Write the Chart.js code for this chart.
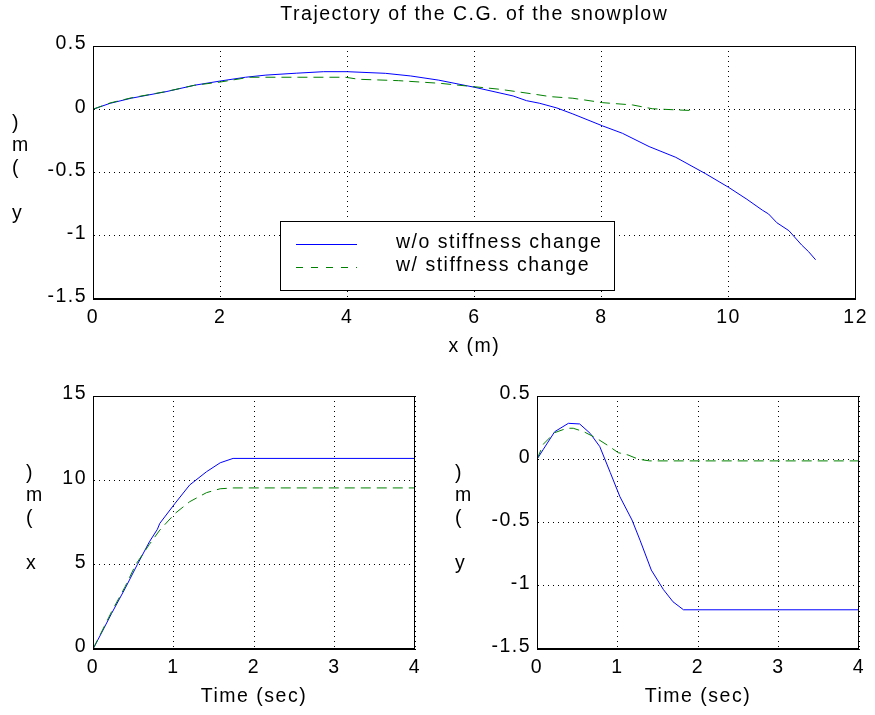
<!DOCTYPE html>
<html>
<head>
<meta charset="utf-8">
<script src="https://cdn.jsdelivr.net/npm/chart.js@4/dist/chart.umd.min.js"></script>
<style>
html,body{margin:0;padding:0;background:#fff;}
#wrap{position:relative;width:875px;height:715px;overflow:hidden;background:#fff;}
canvas{position:absolute;}
</style>
</head>
<body>
<div id="wrap">
<canvas id="c1" width="875" height="360" style="left:0;top:0;width:875px;height:360px"></canvas>
<canvas id="c2" width="440" height="355" style="left:0;top:360px;width:440px;height:355px"></canvas>
<canvas id="c3" width="435" height="355" style="left:440px;top:360px;width:435px;height:355px"></canvas>
</div>
<script>
// ---------- text ----------
const mainTitle = 'Trajectory of the C.G. of the snowplow';
const seriesNames = ['w/o stiffness change', 'w/ stiffness change'];
const trajXLabel = 'x (m)';
const trajYLabel = 'y (m)';
const timeLabel = 'Time (sec)';
const xtLabel = 'x (m)';
const ytLabel = 'y (m)';

// ---------- ticks ----------
const trajXTicks = [0, 2, 4, 6, 8, 10, 12];
const trajXTickLabels = ['0', '2', '4', '6', '8', '10', '12'];
const yTicks = [-1.5, -1, -0.5, 0, 0.5];
const yTickLabels = ['-1.5', '-1', '-0.5', '0', '0.5'];
const timeTicks = [0, 1, 2, 3, 4];
const timeTickLabels = ['0', '1', '2', '3', '4'];
const xtTicks = [0, 5, 10, 15];
const xtTickLabels = ['0', '5', '10', '15'];

// ---------- top: trajectory y vs x ----------
const trajBlueX = [0, 0.27, 0.6, 1.15, 1.6, 2.0, 2.4, 2.72, 3.2, 3.63, 4.0, 4.6, 5.0, 5.44, 6.01, 6.61, 6.82, 7.03, 7.3, 7.55, 8.02, 8.33, 8.75, 9.17, 9.64, 10.0, 10.29, 10.53, 10.63, 10.76, 10.95, 11.15, 11.26, 11.37];
const trajBlueY = [0, 0.047, 0.087, 0.139, 0.19, 0.223, 0.253, 0.27, 0.285, 0.297, 0.297, 0.284, 0.263, 0.23, 0.173, 0.105, 0.068, 0.047, 0.01, -0.037, -0.132, -0.19, -0.295, -0.38, -0.51, -0.617, -0.712, -0.797, -0.828, -0.897, -0.96, -1.073, -1.126, -1.19];
const trajGreenX = [0, 0.27, 0.6, 1.15, 1.6, 2.0, 2.46, 3.24, 3.97, 4.18, 4.81, 5.46, 5.88, 6.4, 6.92, 7.19, 7.55, 8.02, 8.49, 8.8, 9.22, 9.48];
const trajGreenY = [0, 0.05, 0.09, 0.14, 0.19, 0.215, 0.253, 0.253, 0.253, 0.237, 0.226, 0.205, 0.184, 0.158, 0.121, 0.1, 0.087, 0.052, 0.034, 0.004, -0.006, -0.011];

// ---------- bottom-left: x vs time ----------
const xtBlueT = [0, 0.1, 0.23, 0.4, 0.55, 0.7, 0.8, 0.83, 1.02, 1.2, 1.41, 1.58, 1.74, 4];
const xtBlueX = [0, 0.9, 2.1, 3.6, 5.0, 6.35, 7.1, 7.45, 8.64, 9.72, 10.51, 11.04, 11.3, 11.3];
const xtGreenT = [0, 0.1, 0.23, 0.4, 0.53, 0.7, 0.83, 1.02, 1.2, 1.41, 1.58, 1.74, 4];
const xtGreenX = [0, 0.95, 2.2, 3.7, 5.0, 6.2, 7.05, 8.04, 8.73, 9.27, 9.5, 9.55, 9.55];

// ---------- bottom-right: y vs time ----------
const ytBlueT = [0, 0.08, 0.22, 0.39, 0.53, 0.66, 0.78, 0.91, 1.03, 1.18, 1.28, 1.42, 1.57, 1.69, 1.82, 4];
const ytBlueY = [0, 0.08, 0.218, 0.284, 0.279, 0.205, 0.1, -0.105, -0.296, -0.48, -0.64, -0.876, -1.03, -1.127, -1.19, -1.19];
const ytGreenT = [0, 0.08, 0.22, 0.37, 0.45, 0.58, 0.74, 0.87, 1.01, 1.13, 1.26, 1.4, 4];
const ytGreenY = [0, 0.12, 0.21, 0.245, 0.245, 0.218, 0.166, 0.113, 0.052, 0.034, 0.0, -0.013, -0.013];

// ---------- styling ----------
const FONT = "'Liberation Sans', Arial, Helvetica, sans-serif";
const FS = 19.5;
const LS = '1.5px';
const BLUE = 'rgb(0,0,255)';
const GREEN = 'rgb(0,128,0)';

Chart.defaults.font.family = FONT;
Chart.defaults.font.size = FS;
Chart.defaults.color = '#000';

const spacingPlugin = {
  id: 'spacing',
  afterInit(chart) { chart.ctx.letterSpacing = LS; },
  beforeUpdate(chart) { chart.ctx.letterSpacing = LS; },
  beforeDraw(chart) { chart.ctx.letterSpacing = LS; }
};
Chart.register(spacingPlugin);

const framePlugin = {
  id: 'frame',
  afterDraw(chart) {
    const { ctx, chartArea: a } = chart;
    ctx.save();
    ctx.setLineDash([]);
    ctx.strokeStyle = '#000';
    ctx.lineWidth = 1;
    ctx.strokeRect(Math.round(a.left) + 0.5, Math.round(a.top) + 0.5,
      Math.round(a.right - a.left) - 1, Math.round(a.bottom - a.top) - 1);
    ctx.restore();
  }
};

const stackLabelPlugin = {
  id: 'stackLabel',
  afterDraw(chart, args, opts) {
    const { ctx, chartArea: a } = chart;
    const chars = Array.from(opts.text).reverse();
    const cy = (a.top + a.bottom) / 2;
    ctx.save();
    ctx.font = FS + 'px ' + FONT;
    ctx.fillStyle = '#000';
    ctx.textAlign = 'left';
    ctx.textBaseline = 'alphabetic';
    chars.forEach((c, i) => {
      ctx.fillText(c, opts.x, cy + 1 + (i - (chars.length - 1) / 2) * opts.step);
    });
    ctx.restore();
  }
};

const boxLegendPlugin = {
  id: 'boxLegend',
  afterDatasetsDraw(chart, args, o) {
    const { ctx, chartArea: a } = chart;
    const x0 = Math.round(a.left + o.dx), y0 = Math.round(a.top + o.dy);
    ctx.save();
    ctx.setLineDash([]);
    ctx.fillStyle = '#fff';
    ctx.fillRect(x0, y0, o.w, o.h);
    ctx.strokeStyle = '#000';
    ctx.lineWidth = 1;
    ctx.strokeRect(x0 + 0.5, y0 + 0.5, o.w, o.h);
    ctx.font = FS + 'px ' + FONT;
    ctx.textAlign = 'left';
    ctx.textBaseline = 'alphabetic';
    chart.data.datasets.forEach((ds, i) => {
      const ly = y0 + o.row0 + i * o.rowH;
      ctx.strokeStyle = ds.borderColor;
      ctx.lineWidth = 1;
      ctx.setLineDash(o.dashes[i]);
      ctx.beginPath();
      ctx.moveTo(x0 + o.lineX0, ly + 0.5);
      ctx.lineTo(x0 + o.lineX1, ly + 0.5);
      ctx.stroke();
      ctx.setLineDash([]);
      ctx.fillStyle = '#000';
      ctx.fillText(ds.label, x0 + o.textX, ly + o.textDy);
    });
    ctx.restore();
  }
};

function pts(xs, ys) { return xs.map((x, i) => ({ x: x, y: ys[i] })); }

function makeDatasets(bx, by, gx, gy) {
  return [
    { label: seriesNames[0], data: pts(bx, by), borderColor: BLUE, borderWidth: 1,
      pointRadius: 0, tension: 0, fill: false, order: 1 },
    { label: seriesNames[1], data: pts(gx, gy), borderColor: GREEN, borderWidth: 1,
      borderDash: [10, 6], pointRadius: 0, tension: 0, fill: false, order: 0 }
  ];
}

function axis(opts) {
  return {
    type: 'linear',
    min: opts.min, max: opts.max,
    afterBuildTicks: (s) => { s.ticks = opts.ticks.map(v => ({ value: v })); },
    afterFit: (s) => { if (opts.width !== undefined) s.width = opts.width; if (opts.height !== undefined) s.height = opts.height; },
    ticks: {
      autoSkip: false, maxRotation: 0, minRotation: 0,
      padding: opts.pad, labelOffset: opts.labelOffset || 0,
      color: '#000', font: { size: FS },
      callback: (v, i) => opts.labels[i]
    },
    grid: { color: '#000', lineWidth: 1, drawTicks: false },
    border: { display: true, color: '#000', width: 1, dash: [1, 4] },
    title: opts.title ? { display: true, text: opts.title, color: '#000', font: { size: FS },
      padding: { top: 0, bottom: opts.titlePad } } : { display: false }
  };
}

function baseOptions(padding, plugins, scales) {
  return {
    responsive: false, animation: false, devicePixelRatio: 1, events: [],
    layout: { padding: padding },
    plugins: Object.assign({ legend: { display: false }, tooltip: { enabled: false } }, plugins),
    scales: scales
  };
}

// ---------- chart 1 ----------
new Chart(document.getElementById('c1'), {
  type: 'line',
  data: { datasets: makeDatasets(trajBlueX, trajBlueY, trajGreenX, trajGreenY) },
  options: baseOptions({ left: 0, right: 16, top: 3, bottom: 0 }, {
    title: { display: true, text: mainTitle, color: '#000', fullSize: false,
      font: { size: FS, weight: 'normal' }, padding: { top: 0, bottom: 19.6 } },
    stackLabel: { text: trajYLabel, x: 12, step: 22.5 },
    boxLegend: { dx: 187, dy: 175, w: 334, h: 69, row0: 23, rowH: 23,
      lineX0: 16, lineX1: 77, textX: 116, textDy: 4, dashes: [[], [7, 8]] }
  }, {
    x: axis({ min: 0, max: 12, ticks: trajXTicks, labels: trajXTickLabels, pad: 7,
      height: 61, title: trajXLabel, titlePad: 1.3 }),
    y: axis({ min: -1.5, max: 0.5, ticks: yTicks, labels: yTickLabels, pad: 6,
      labelOffset: -2, width: 93 })
  }),
  plugins: [framePlugin, stackLabelPlugin, boxLegendPlugin]
});

// ---------- chart 2 ----------
new Chart(document.getElementById('c2'), {
  type: 'line',
  data: { datasets: makeDatasets(xtBlueT, xtBlueX, xtGreenT, xtGreenX) },
  options: baseOptions({ left: 0, right: 25, top: 36, bottom: 0 }, {
    stackLabel: { text: xtLabel, x: 26, step: 22.5 }
  }, {
    x: axis({ min: 0, max: 4, ticks: timeTicks, labels: timeTickLabels, pad: 7,
      height: 66, title: timeLabel, titlePad: 6.3 }),
    y: axis({ min: 0, max: 15, ticks: xtTicks, labels: xtTickLabels, pad: 6,
      labelOffset: -2, width: 93 })
  }),
  plugins: [framePlugin, stackLabelPlugin]
});

// ---------- chart 3 ----------
new Chart(document.getElementById('c3'), {
  type: 'line',
  data: { datasets: makeDatasets(ytBlueT, ytBlueY, ytGreenT, ytGreenY) },
  options: baseOptions({ left: 0, right: 16, top: 36, bottom: 0 }, {
    stackLabel: { text: ytLabel, x: 15, step: 22.5 }
  }, {
    x: axis({ min: 0, max: 4, ticks: timeTicks, labels: timeTickLabels, pad: 7,
      height: 66, title: timeLabel, titlePad: 6.3 }),
    y: axis({ min: -1.5, max: 0.5, ticks: yTicks, labels: yTickLabels, pad: 6,
      labelOffset: -2, width: 97 })
  }),
  plugins: [framePlugin, stackLabelPlugin]
});
</script>
</body>
</html>
